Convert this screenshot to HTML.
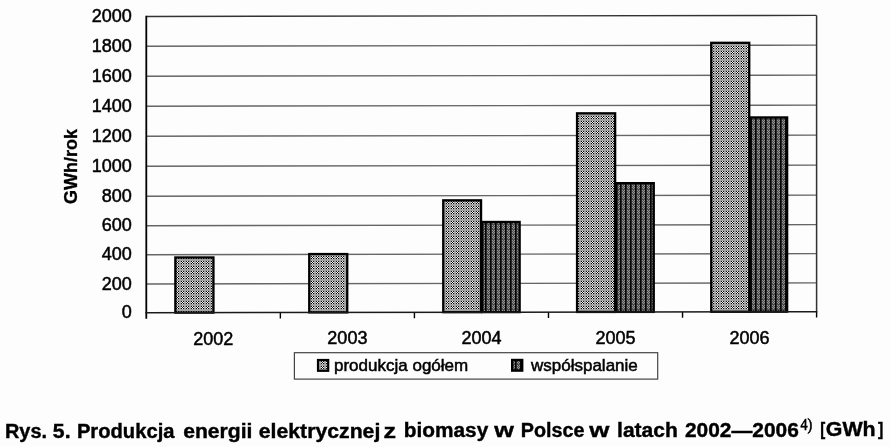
<!DOCTYPE html><html><head><meta charset="utf-8"><style>html,body{margin:0;padding:0;background:#fdfdfd;overflow:hidden}svg{display:block;filter:grayscale(100%)}text{font-family:"Liberation Sans",sans-serif;}</style></head><body><svg width="890" height="447" viewBox="0 0 890 447"><defs><pattern id="pl" width="5" height="5" patternUnits="userSpaceOnUse"><path fill="rgb(162,162,162)" d="M0 0h5v1h-5zM0 1h1v1h-1zM4 1h1v1h-1zM0 2h1v1h-1zM4 2h1v1h-1zM0 3h1v1h-1zM4 3h1v1h-1zM0 4h5v1h-5z"/><path fill="rgb(10,10,10)" d="M1 1h1v1h-1zM3 1h1v1h-1zM2 2h1v1h-1zM1 3h1v1h-1zM3 3h1v1h-1z"/><path fill="rgb(245,245,245)" d="M2 1h1v1h-1zM1 2h1v1h-1zM3 2h1v1h-1zM2 3h1v1h-1z"/></pattern><pattern id="pd" width="5" height="5" patternUnits="userSpaceOnUse"><path fill="rgb(5,5,5)" d="M0 0h1v1h-1zM0 1h1v1h-1zM0 2h1v1h-1zM0 3h1v1h-1zM0 4h1v1h-1z"/><path fill="rgb(40,40,40)" d="M1 0h1v1h-1zM1 1h1v1h-1zM1 2h1v1h-1zM1 3h1v1h-1zM1 4h1v1h-1z"/><path fill="rgb(150,150,150)" d="M2 0h1v1h-1zM4 0h1v1h-1zM3 1h1v1h-1zM2 2h1v1h-1zM4 2h1v1h-1zM3 3h1v1h-1z"/><path fill="rgb(75,75,75)" d="M3 0h1v1h-1zM2 1h1v1h-1zM4 1h1v1h-1zM3 2h1v1h-1zM2 3h1v1h-1zM4 3h1v1h-1zM2 4h3v1h-3z"/></pattern></defs><g transform="translate(265,0) skewY(-0.0917) translate(-265,0)"><line x1="146.3" y1="283.80" x2="816.6" y2="283.80" stroke="#666" stroke-width="1.4"/><line x1="146.3" y1="254.50" x2="816.6" y2="254.50" stroke="#666" stroke-width="1.4"/><line x1="146.3" y1="225.50" x2="816.6" y2="225.50" stroke="#666" stroke-width="1.4"/><line x1="146.3" y1="196.00" x2="816.6" y2="196.00" stroke="#666" stroke-width="1.4"/><line x1="146.3" y1="166.00" x2="816.6" y2="166.00" stroke="#666" stroke-width="1.4"/><line x1="146.3" y1="136.00" x2="816.6" y2="136.00" stroke="#666" stroke-width="1.4"/><line x1="146.3" y1="106.00" x2="816.6" y2="106.00" stroke="#666" stroke-width="1.4"/><line x1="146.3" y1="76.00" x2="816.6" y2="76.00" stroke="#666" stroke-width="1.4"/><line x1="146.3" y1="46.00" x2="816.6" y2="46.00" stroke="#666" stroke-width="1.4"/><line x1="146.3" y1="16.30" x2="816.6" y2="16.30" stroke="#333" stroke-width="1.4"/><line x1="816.6" y1="16.30" x2="816.6" y2="312.50" stroke="#333" stroke-width="1.5"/><line x1="146.3" y1="15.60" x2="146.3" y2="318.50" stroke="#000" stroke-width="1.8"/><line x1="280.36" y1="312.50" x2="280.36" y2="318.50" stroke="#000" stroke-width="1.4"/><line x1="414.42" y1="312.50" x2="414.42" y2="318.50" stroke="#000" stroke-width="1.4"/><line x1="548.48" y1="312.50" x2="548.48" y2="318.50" stroke="#000" stroke-width="1.4"/><line x1="682.54" y1="312.50" x2="682.54" y2="318.50" stroke="#000" stroke-width="1.4"/><line x1="816.60" y1="312.50" x2="816.60" y2="318.50" stroke="#000" stroke-width="1.4"/></g><rect x="175.35" y="257.46" width="38.10" height="55.15" fill="url(#pl)" stroke="#000" stroke-width="2.3"/><rect x="309.25" y="254.05" width="38.00" height="58.35" fill="url(#pl)" stroke="#000" stroke-width="2.3"/><rect x="443.25" y="200.33" width="37.80" height="111.85" fill="url(#pl)" stroke="#000" stroke-width="2.3"/><rect x="482.35" y="221.97" width="37.30" height="90.15" fill="url(#pd)" stroke="#000" stroke-width="2.3"/><rect x="577.05" y="113.32" width="38.10" height="198.65" fill="url(#pl)" stroke="#000" stroke-width="2.3"/><rect x="616.45" y="183.16" width="37.30" height="128.75" fill="url(#pd)" stroke="#000" stroke-width="2.3"/><rect x="711.25" y="42.81" width="38.00" height="268.95" fill="url(#pl)" stroke="#000" stroke-width="2.3"/><rect x="750.65" y="117.44" width="36.50" height="194.25" fill="url(#pd)" stroke="#000" stroke-width="2.3"/><g transform="translate(265,0) skewY(-0.0917) translate(-265,0)"><line x1="145.4" y1="312.60" x2="817.35" y2="312.60" stroke="#1a1a1a" stroke-width="1.5"/></g><text x="131.8" y="318.40" font-size="18" text-anchor="end" fill="#000" stroke="#000" stroke-width="0.5">0</text><text x="131.8" y="289.70" font-size="18" text-anchor="end" fill="#000" stroke="#000" stroke-width="0.5">200</text><text x="131.8" y="260.40" font-size="18" text-anchor="end" fill="#000" stroke="#000" stroke-width="0.5">400</text><text x="131.8" y="231.40" font-size="18" text-anchor="end" fill="#000" stroke="#000" stroke-width="0.5">600</text><text x="131.8" y="201.90" font-size="18" text-anchor="end" fill="#000" stroke="#000" stroke-width="0.5">800</text><text x="131.8" y="171.90" font-size="18" text-anchor="end" fill="#000" stroke="#000" stroke-width="0.5">1000</text><text x="131.8" y="141.90" font-size="18" text-anchor="end" fill="#000" stroke="#000" stroke-width="0.5">1200</text><text x="131.8" y="111.90" font-size="18" text-anchor="end" fill="#000" stroke="#000" stroke-width="0.5">1400</text><text x="131.8" y="81.90" font-size="18" text-anchor="end" fill="#000" stroke="#000" stroke-width="0.5">1600</text><text x="131.8" y="51.90" font-size="18" text-anchor="end" fill="#000" stroke="#000" stroke-width="0.5">1800</text><text x="131.8" y="22.20" font-size="18" text-anchor="end" fill="#000" stroke="#000" stroke-width="0.5">2000</text><text x="213.33" y="344.68" font-size="18" text-anchor="middle" fill="#000" stroke="#000" stroke-width="0.5">2002</text><text x="347.39" y="344.47" font-size="18" text-anchor="middle" fill="#000" stroke="#000" stroke-width="0.5">2003</text><text x="481.45" y="344.25" font-size="18" text-anchor="middle" fill="#000" stroke="#000" stroke-width="0.5">2004</text><text x="615.51" y="344.04" font-size="18" text-anchor="middle" fill="#000" stroke="#000" stroke-width="0.5">2005</text><text x="749.57" y="343.82" font-size="18" text-anchor="middle" fill="#000" stroke="#000" stroke-width="0.5">2006</text><text transform="translate(77,166.5) rotate(-90)" font-size="18" font-weight="bold" text-anchor="middle" fill="#000" stroke="#000" stroke-width="0.3">GWh/rok</text><rect x="294.4" y="352.7" width="363.3" height="26.4" fill="none" stroke="#444" stroke-width="1.2"/><rect x="318" y="360" width="10.2" height="10.8" fill="url(#pl)" stroke="#000" stroke-width="2.2"/><text x="334" y="370.7" font-size="17" fill="#000" stroke="#000" stroke-width="0.5">produkcja ogółem</text><rect x="512.2" y="360" width="10" height="10.6" fill="url(#pd)" stroke="#000" stroke-width="2.4"/><text x="531" y="370.7" font-size="17" fill="#000" stroke="#000" stroke-width="0.5">współspalanie</text><text transform="translate(4.93,438.45) scale(0.9732,1)" font-size="20.5" font-weight="bold" fill="#000" stroke="#000" stroke-width="0.4">Rys.</text><text transform="translate(52.87,438.37) scale(1.0333,1)" font-size="20.5" font-weight="bold" fill="#000" stroke="#000" stroke-width="0.4">5.</text><text transform="translate(76.92,438.21) scale(0.9848,1)" font-size="20.5" font-weight="bold" fill="#000" stroke="#000" stroke-width="0.4">Produkcja</text><text transform="translate(183.17,437.99) scale(1.0308,1)" font-size="20.5" font-weight="bold" fill="#000" stroke="#000" stroke-width="0.4">energii</text><text transform="translate(258.76,437.75) scale(1.0365,1)" font-size="20.5" font-weight="bold" fill="#000" stroke="#000" stroke-width="0.4">elektrycznej</text><text transform="translate(383.58,437.58) scale(1.2222,1)" font-size="20.5" font-weight="bold" fill="#000" stroke="#000" stroke-width="0.4">z</text><text transform="translate(403.78,437.44) scale(1.0159,1)" font-size="20.5" font-weight="bold" fill="#000" stroke="#000" stroke-width="0.4">biomasy</text><text transform="translate(494.20,437.30) scale(1.2312,1)" font-size="20.5" font-weight="bold" fill="#000" stroke="#000" stroke-width="0.4">w</text><text transform="translate(520.74,437.19) scale(0.9646,1)" font-size="20.5" font-weight="bold" fill="#000" stroke="#000" stroke-width="0.4">Polsce</text><text transform="translate(589.20,437.08) scale(1.2625,1)" font-size="20.5" font-weight="bold" fill="#000" stroke="#000" stroke-width="0.4">w</text><text transform="translate(617.07,436.96) scale(1.0263,1)" font-size="20.5" font-weight="bold" fill="#000" stroke="#000" stroke-width="0.4">latach</text><text transform="translate(685.00,436.73) scale(1.0189,1)" font-size="20.5" font-weight="bold" fill="#000" stroke="#000" stroke-width="0.4">2002—2006</text><text transform="translate(825.76,436.47) scale(1.0435,1)" font-size="20.5" font-weight="bold" fill="#000" stroke="#000" stroke-width="0.4">GWh</text><text transform="translate(820.17,435.16) scale(0.7333,0.9105)" font-size="20.5" font-weight="bold" fill="#000" stroke="#000" stroke-width="0.4">[</text><text transform="translate(878.00,434.96) scale(0.7833,0.9105)" font-size="20.5" font-weight="bold" fill="#000" stroke="#000" stroke-width="0.4">]</text><text transform="translate(800.4,429.7) scale(0.88,1)" font-family="Liberation Serif" style="font-family:'Liberation Serif',serif" font-size="16" fill="#000" stroke="#000" stroke-width="0.6">4)</text></svg></body></html>
